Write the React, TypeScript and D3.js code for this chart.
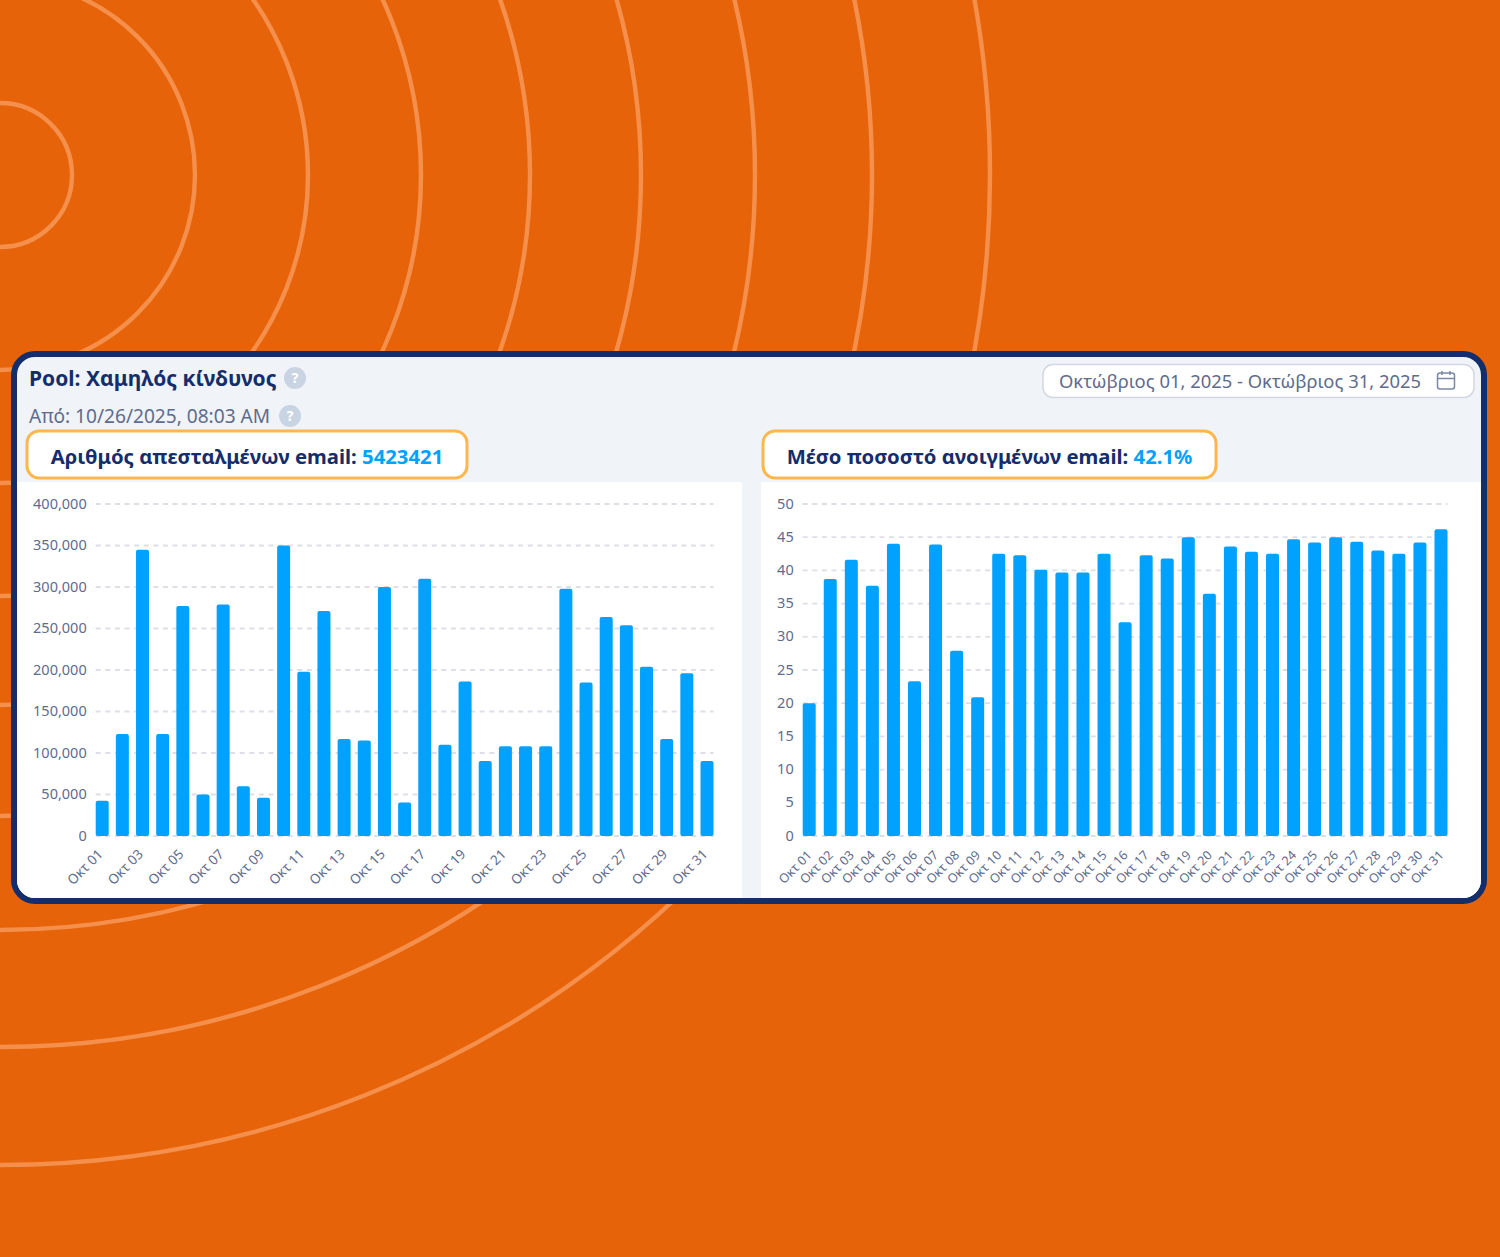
import { useEffect, useRef } from 'react';
import * as d3 from 'd3';

const days = d3.range(1, 32).map(d => `Οκτ ${String(d).padStart(2, '0')}`);

const sentValues = [
  42500, 123000, 345000, 123000, 277000, 50000, 279000, 60000, 46000, 350000, 198000,
  271000, 117000, 115000, 300000, 40500, 310000, 110000, 186000, 90500, 108000, 108000,
  108000, 298000, 185000, 264000, 254000, 204000, 117000, 196000, 90500,
];
const openValues = [
  20, 38.7, 41.6, 37.7, 44, 23.3, 43.9, 27.9, 20.9, 42.5, 42.3, 40.1, 39.7, 39.7, 42.5, 32.2,
  42.3, 41.8, 45, 36.5, 43.6, 42.8, 42.5, 44.7, 44.2, 45, 44.3, 43, 42.5, 44.2, 46.2,
];
const sentTicks = [0, 50000, 100000, 150000, 200000, 250000, 300000, 350000, 400000];
const openTicks = [0, 5, 10, 15, 20, 25, 30, 35, 40, 45, 50];
const ringRadii = [72, 195, 308, 421, 530, 641, 755, 872, 990];

const NAVY = '#142d6b';
const BLUE = '#00a1ff';
const GREY = '#5f6b8c';
const FONT = '"Noto Sans", sans-serif';

type Sel = d3.Selection<SVGGElement, unknown, null, undefined>;

function drawBars(
  g: Sel,
  values: number[],
  ticks: number[],
  domainMax: number,
  x0: number,
  x1: number,
  labelStep: number,
  labelSize: number,
  labelShift: string,
  fmt: (d: number) => string
) {
  const x = d3.scalePoint<string>().domain(days).range([x0 + 6.5, x1 - 6.5]);
  const y = d3.scaleLinear().domain([0, domainMax]).range([836, 504]);

  // Grid lines
  g.append('g')
    .selectAll('line')
    .data(ticks)
    .join('line')
    .attr('x1', x0)
    .attr('x2', x1)
    .attr('y1', d => y(d))
    .attr('y2', d => y(d))
    .attr('stroke', '#dcdfe8')
    .attr('stroke-width', 1.8)
    .attr('stroke-dasharray', '5,4.6');

  // Bars
  g.append('g')
    .selectAll('rect')
    .data(values)
    .join('rect')
    .attr('x', (_, i) => x(days[i])! - 6.5)
    .attr('y', d => y(d))
    .attr('width', 13)
    .attr('height', d => 836 - y(d))
    .attr('rx', 2)
    .attr('fill', BLUE);

  // Axes
  g.append('g')
    .attr('transform', `translate(${x0 - 7},-0.5)`)
    .call(d3.axisLeft(y).tickValues(ticks).tickSize(0).tickPadding(2).tickFormat(d => fmt(+d)))
    .call(sel => sel.select('.domain').remove())
    .call(sel =>
      sel.selectAll('text').attr('fill', GREY).attr('font-size', 14.5).attr('font-family', FONT)
    );

  g.append('g')
    .attr('transform', 'translate(0,836)')
    .call(
      d3
        .axisBottom(x)
        .tickValues(days.filter((_, i) => i % labelStep === 0))
        .tickSize(0)
    )
    .call(sel => sel.select('.domain').remove())
    .call(sel =>
      sel
        .selectAll('text')
        .attr('fill', GREY)
        .attr('font-size', labelSize)
        .attr('font-family', FONT)
        .attr('text-anchor', 'end')
        .attr('dy', 0)
        .attr('y', 0)
        .attr('transform', `translate(${labelShift}) rotate(-45)`)
    );
}

function helpBadge(g: Sel, cx: number, cy: number) {
  g.append('circle').attr('cx', cx).attr('cy', cy).attr('r', 11).attr('fill', '#c9d4e3');
  g.append('text')
    .attr('x', cx)
    .attr('y', cy + 5)
    .attr('text-anchor', 'middle')
    .attr('fill', '#fff')
    .attr('font-size', 14)
    .attr('font-weight', 700)
    .text('?');
}

function statBox(g: Sel, x: number, w: number, label: string, value: string) {
  g.append('rect')
    .attr('x', x)
    .attr('y', 431)
    .attr('width', w)
    .attr('height', 47)
    .attr('rx', 12)
    .attr('fill', '#fff')
    .attr('stroke', '#ffb74d')
    .attr('stroke-width', 3);
  const t = g
    .append('text')
    .attr('x', x + w / 2)
    .attr('y', 464)
    .attr('text-anchor', 'middle')
    .attr('font-size', 20.3)
    .attr('font-weight', 700)
    .attr('fill', NAVY);
  t.append('tspan').text(`${label} `);
  t.append('tspan').attr('fill', BLUE).text(value);
}

export default function App() {
  const svgRef = useRef<SVGSVGElement>(null);

  useEffect(() => {
    if (!svgRef.current) return;
    const svg = d3.select(svgRef.current);
    svg.selectAll('*').remove();

    const root = svg.append('g').attr('font-family', FONT) as unknown as Sel;

    // Background
    root.append('rect').attr('width', 1500).attr('height', 1257).attr('fill', '#e6630a');
    root
      .append('g')
      .selectAll('circle')
      .data(ringRadii)
      .join('circle')
      .attr('cx', 0)
      .attr('cy', 175)
      .attr('r', d => d)
      .attr('fill', 'none')
      .attr('stroke', '#f5904c')
      .attr('stroke-width', 4.4);

    // Card
    svg
      .append('defs')
      .append('clipPath')
      .attr('id', 'card-clip')
      .append('rect')
      .attr('x', 17)
      .attr('y', 357)
      .attr('width', 1464)
      .attr('height', 541)
      .attr('rx', 18);
    root
      .append('rect')
      .attr('x', 14)
      .attr('y', 354)
      .attr('width', 1470)
      .attr('height', 547)
      .attr('rx', 21)
      .attr('fill', '#f0f3f8')
      .attr('stroke', NAVY)
      .attr('stroke-width', 6);
    const inner = root.append('g').attr('clip-path', 'url(#card-clip)') as unknown as Sel;
    inner.append('rect').attr('x', 17).attr('y', 482).attr('width', 725).attr('height', 416).attr('fill', '#fff');
    inner.append('rect').attr('x', 761).attr('y', 482).attr('width', 720).attr('height', 416).attr('fill', '#fff');

    // Header
    root
      .append('text')
      .attr('x', 29)
      .attr('y', 386)
      .attr('font-size', 21)
      .attr('font-weight', 700)
      .attr('fill', NAVY)
      .text('Pool: Χαμηλός κίνδυνος');
    helpBadge(root, 295, 378);
    root
      .append('text')
      .attr('x', 29)
      .attr('y', 422.5)
      .attr('font-size', 19.1)
      .attr('fill', GREY)
      .text('Από: 10/26/2025, 08:03 AM');
    helpBadge(root, 290, 416);

    // Date range
    root
      .append('rect')
      .attr('x', 1043)
      .attr('y', 364.5)
      .attr('width', 431)
      .attr('height', 33)
      .attr('rx', 10)
      .attr('fill', '#fff')
      .attr('stroke', '#d3d7e2')
      .attr('stroke-width', 1.5);
    root
      .append('text')
      .attr('x', 1059)
      .attr('y', 388)
      .attr('font-size', 18.4)
      .attr('fill', GREY)
      .text('Οκτώβριος 01, 2025 - Οκτώβριος 31, 2025');
    const cal = root
      .append('g')
      .attr('fill', 'none')
      .attr('stroke', '#7d88a6')
      .attr('stroke-width', 1.5);
    cal.append('rect').attr('x', 1437.5).attr('y', 373).attr('width', 17).attr('height', 16).attr('rx', 2.5);
    cal.append('path').attr('d', 'M1437.5 378.5H1454.5M1442 371V375M1450 371V375');

    statBox(root, 27, 440, 'Αριθμός απεσταλμένων email:', '5423421');
    statBox(root, 763, 453, 'Μέσο ποσοστό ανοιγμένων email:', '42.1%');

    drawBars(root, sentValues, sentTicks, 400000, 95.7, 713.5, 2, 13.5, '1,19', d3.format(','));
    drawBars(root, openValues, openTicks, 50, 802.7, 1447.5, 1, 12.6, '3,20', d => String(d));
  }, []);

  return (
    <svg
      ref={svgRef}
      width={1500}
      height={1257}
      style={{ position: 'absolute', top: 0, left: 0, display: 'block' }}
    />
  );
}
